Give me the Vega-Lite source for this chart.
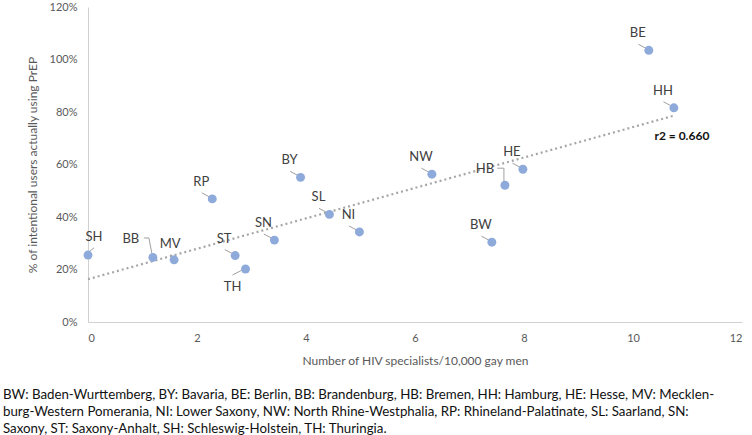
{
  "$schema": "https://vega.github.io/schema/vega-lite/v6.json",
  "width": 654,
  "height": 315,
  "autosize": {"type": "none"},
  "padding": {"left": 88, "top": 7, "right": 10, "bottom": 113},
  "background": "white",
  "config": {
    "view": {"stroke": null},
    "font": "Lato",
    "axis": {
      "grid": false,
      "ticks": false,
      "domainColor": "#d0d0d0",
      "domainWidth": 1,
      "labelColor": "#595959",
      "labelFont": "Lato",
      "labelFontSize": 11,
      "titleColor": "#595959",
      "titleFont": "Lato",
      "titleFontSize": 12,
      "titleFontWeight": "normal"
    }
  },
  "title": {
    "text": [
      "BW: Baden-Wurttemberg, BY: Bavaria, BE: Berlin, BB: Brandenburg, HB: Bremen, HH: Hamburg, HE: Hesse, MV: Mecklen-",
      "burg-Western Pomerania, NI: Lower Saxony, NW: North Rhine-Westphalia, RP: Rhineland-Palatinate, SL: Saarland, SN:",
      "Saxony, ST: Saxony-Anhalt, SH: Schleswig-Holstein, TH: Thuringia."
    ],
    "orient": "bottom",
    "anchor": "start",
    "frame": "group",
    "dx": -85,
    "offset": 22,
    "font": "Lato",
    "fontSize": 13.3,
    "fontWeight": "normal",
    "color": "#111111",
    "lineHeight": 17
  },
  "datasets": {
    "states": [
      {"code": "SH", "specialists": 0, "prep": 0.255},
      {"code": "BB", "specialists": 1.19, "prep": 0.246},
      {"code": "MV", "specialists": 1.58, "prep": 0.237},
      {"code": "RP", "specialists": 2.28, "prep": 0.469},
      {"code": "ST", "specialists": 2.7, "prep": 0.253},
      {"code": "TH", "specialists": 2.89, "prep": 0.202},
      {"code": "SN", "specialists": 3.42, "prep": 0.312},
      {"code": "BY", "specialists": 3.9, "prep": 0.551},
      {"code": "SL", "specialists": 4.43, "prep": 0.41},
      {"code": "NI", "specialists": 4.98, "prep": 0.343},
      {"code": "NW", "specialists": 6.31, "prep": 0.563},
      {"code": "BW", "specialists": 7.41, "prep": 0.304},
      {"code": "HB", "specialists": 7.65, "prep": 0.521},
      {"code": "HE", "specialists": 7.98, "prep": 0.582},
      {"code": "BE", "specialists": 10.29, "prep": 1.035},
      {"code": "HH", "specialists": 10.75, "prep": 0.816}
    ],
    "trend": [
      {"specialists": 0, "prep": 0.163},
      {"specialists": 10.75, "prep": 0.786}
    ]
  },
  "data": {"name": "states"},
  "encoding": {
    "x": {
      "field": "specialists",
      "type": "quantitative",
      "scale": {"domain": [0, 12], "nice": false},
      "axis": {
        "title": "Number of HIV specialists/10,000 gay men",
        "values": [0, 2, 4, 6, 8, 10, 12],
        "labelPadding": 10,
        "titlePadding": 12
      }
    },
    "y": {
      "field": "prep",
      "type": "quantitative",
      "scale": {"domain": [0, 1.2], "nice": false},
      "axis": {
        "title": "% of intentional users actually using PrEP",
        "values": [0, 0.2, 0.4, 0.6, 0.8, 1.0, 1.2],
        "format": ".0%",
        "labelPadding": 11,
        "titlePadding": 10
      }
    }
  },
  "layer": [
    {
      "data": {"name": "trend"},
      "mark": {"type": "line", "color": "#a6a6a6", "strokeWidth": 2.2, "strokeDash": [2, 3], "strokeCap": "butt"}
    },
    {
      "mark": {"type": "point", "filled": false, "color": "#a0a0a0", "strokeWidth": 1, "opacity": 1, "size": 484},
      "encoding": {
        "shape": {
          "condition": [
            {"test": "datum.code === 'SH'", "value": "M0.12,-0.3L0.55,-0.66"},
            {"test": "datum.code === 'MV'", "value": "M-0.3,-0.49L-0.09,-0.14"},
            {"test": "datum.code === 'TH'", "value": "M-1.18,0.55L-0.18,0.03"},
            {"test": "datum.code === 'BB'", "value": "M-0.82,-1.77L-0.36,-1.77L-0.09,-0.36"},
            {"test": "datum.code === 'HB'", "value": "M-0.7,-1.55L-0.09,-1.55L-0.09,-0.33"}
          ],
          "value": "M-0.95,-0.55L-0.18,-0.14"
        }
      }
    },
    {
      "mark": {"type": "circle", "color": "#8eaadb", "opacity": 1, "size": 80}
    },
    {
      "transform": [{"filter": "indexof(['SH','MV','TH','BB','HB'], datum.code) < 0"}],
      "mark": {"type": "text", "dx": -11, "dy": -17, "font": "Lato", "fontSize": 13, "color": "#404040", "align": "center", "baseline": "middle"},
      "encoding": {"text": {"field": "code"}}
    },
    {
      "transform": [{"filter": "datum.code === 'SH'"}],
      "mark": {"type": "text", "dx": 6, "dy": -18, "font": "Lato", "fontSize": 13, "color": "#404040", "align": "center", "baseline": "middle"},
      "encoding": {"text": {"field": "code"}}
    },
    {
      "transform": [{"filter": "datum.code === 'MV'"}],
      "mark": {"type": "text", "dx": -4, "dy": -16, "font": "Lato", "fontSize": 13, "color": "#404040", "align": "center", "baseline": "middle"},
      "encoding": {"text": {"field": "code"}}
    },
    {
      "transform": [{"filter": "datum.code === 'TH'"}],
      "mark": {"type": "text", "dx": -13, "dy": 18, "font": "Lato", "fontSize": 13, "color": "#404040", "align": "center", "baseline": "middle"},
      "encoding": {"text": {"field": "code"}}
    },
    {
      "transform": [{"filter": "datum.code === 'BB'"}],
      "mark": {"type": "text", "dx": -22, "dy": -18, "font": "Lato", "fontSize": 13, "color": "#404040", "align": "center", "baseline": "middle"},
      "encoding": {"text": {"field": "code"}}
    },
    {
      "transform": [{"filter": "datum.code === 'HB'"}],
      "mark": {"type": "text", "dx": -20, "dy": -16, "font": "Lato", "fontSize": 13, "color": "#404040", "align": "center", "baseline": "middle"},
      "encoding": {"text": {"field": "code"}}
    },
    {
      "transform": [{"filter": "datum.code === 'HH'"}],
      "mark": {"type": "text", "dx": 8, "dy": 28, "font": "Lato", "fontSize": 12, "fontWeight": "bold", "color": "#111111", "align": "center", "baseline": "middle", "text": "r2 = 0.660"}
    }
  ]
}
